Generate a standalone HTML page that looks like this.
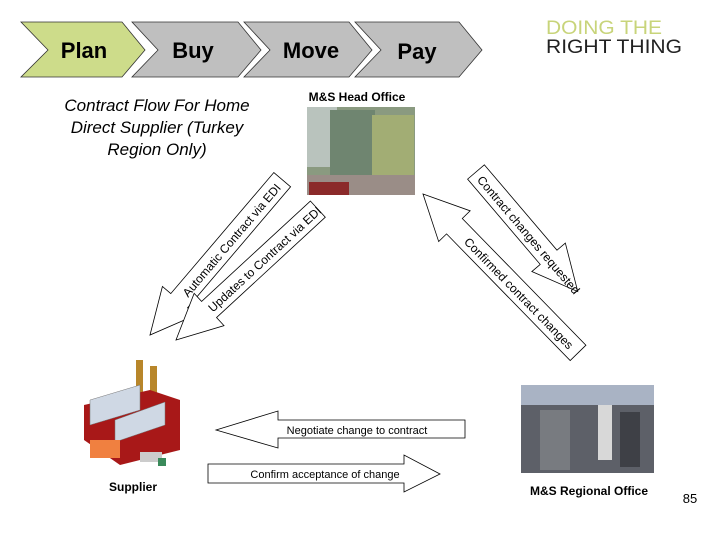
<!DOCTYPE html>
<html><head><meta charset="utf-8"><style>
html,body{margin:0;padding:0;background:#fff;}
svg{display:block;font-family:"Liberation Sans",Arial,sans-serif;}
</style></head><body>
<svg width="720" height="540" viewBox="0 0 720 540" xmlns="http://www.w3.org/2000/svg">
<rect width="720" height="540" fill="#fff"/>
<!-- chevrons -->
<g stroke="#333" stroke-width="0.8">
<polygon points="21,22 122,22 145,50 122,77 21,77 48,50" fill="#cddc8a"/>
<polygon points="132,22 238,22 261,50 238,77 132,77 158,50" fill="#bfbfbf"/>
<polygon points="244,22 349,22 372,50 349,77 244,77 270,50" fill="#bfbfbf"/>
<polygon points="355,22 459,22 482,50 459,77 355,77 381,50" fill="#bfbfbf"/>
</g>
<g font-weight="bold" font-size="22" fill="#000" text-anchor="middle">
<text x="84" y="58">Plan</text>
<text x="193" y="58">Buy</text>
<text x="311" y="58">Move</text>
<text x="417" y="59">Pay</text>
</g>
<text x="546" y="34" font-size="19" fill="#c8d47a" textLength="116" lengthAdjust="spacingAndGlyphs">DOING THE</text>
<text x="546" y="53" font-size="19" fill="#222" textLength="136" lengthAdjust="spacingAndGlyphs">RIGHT THING</text>
<g font-style="italic" font-size="17" text-anchor="middle" fill="#000">
<text x="157" y="111">Contract Flow  For Home</text>
<text x="157" y="133">Direct Supplier (Turkey</text>
<text x="157" y="155">Region Only)</text>
</g>
<text x="357" y="101" font-size="12" font-weight="bold" text-anchor="middle">M&amp;S Head Office</text>
<!-- head office photo -->
<rect x="307" y="107" width="108" height="88" fill="#8a9a80"/>
<rect x="307" y="107" width="30" height="60" fill="#b9c3bd"/>
<rect x="330" y="110" width="45" height="65" fill="#6f8570"/>
<rect x="372" y="115" width="42" height="60" fill="#a2ad74"/>
<rect x="307" y="175" width="108" height="20" fill="#9a8d87"/>
<rect x="309" y="182" width="40" height="13" fill="#8b2a2a"/>
<!-- diagonal arrows -->
<g fill="#fff" stroke="#000" stroke-width="0.8" font-size="12">
<g transform="translate(150,335) rotate(-49.6)">
<polygon points="0,0 45,-22 45,-11 204,-11 204,11 45,11 45,22"/>
<text x="125" y="5" text-anchor="middle" stroke="none" fill="#000">Automatic Contract via EDI</text>
</g>
<g transform="translate(176,340) rotate(-42.7)">
<polygon points="0,0 45,-22 45,-11 193,-11 193,11 45,11 45,22"/>
<text x="120" y="5" text-anchor="middle" stroke="none" fill="#000">Updates to Contract via EDI</text>
</g>
<g transform="translate(476,172) rotate(49.6)">
<polygon points="0,-11 112,-11 112,-22 157,0 112,22 112,11 0,11"/>
<text x="82" y="5" text-anchor="middle" stroke="none" fill="#000">Contract changes requested</text>
</g>
<g transform="translate(423,194) rotate(45.7)">
<polygon points="0,0 45,-22 45,-11 222,-11 222,11 45,11 45,22"/>
<text x="138" y="5" text-anchor="middle" stroke="none" fill="#000">Confirmed contract changes</text>
</g>
<!-- horizontal -->
<polygon points="216,430 278,411 278,420 465,420 465,438 278,438 278,448"/>
<text x="357" y="434" text-anchor="middle" font-size="11" stroke="none" fill="#000">Negotiate change to contract</text>
<polygon points="208,464 404,464 404,455 440,474 404,492 404,483 208,483"/>
<text x="325" y="478" text-anchor="middle" font-size="11" stroke="none" fill="#000">Confirm acceptance of change</text>
</g>
<!-- factory -->
<rect x="136" y="360" width="7" height="50" fill="#b8862a"/>
<rect x="150" y="366" width="7" height="45" fill="#b8862a"/>
<polygon points="84,405 150,390 180,400 180,450 120,465 84,440" fill="#a81818"/>
<polygon points="90,400 140,385 140,410 90,425" fill="#cfd8e4" stroke="#777" stroke-width="0.5"/>
<polygon points="115,420 165,402 165,425 115,442" fill="#cfd8e4" stroke="#777" stroke-width="0.5"/>
<rect x="90" y="440" width="30" height="18" fill="#f08040"/>
<rect x="140" y="452" width="22" height="10" fill="#ccc"/>
<rect x="158" y="458" width="8" height="8" fill="#3a8a5a"/>
<text x="133" y="491" font-size="12" font-weight="bold" text-anchor="middle">Supplier</text>
<!-- regional photo -->
<rect x="521" y="385" width="133" height="88" fill="#5d6068"/>
<rect x="521" y="385" width="133" height="20" fill="#a9b3c4"/>
<rect x="540" y="410" width="30" height="60" fill="#787b80"/>
<rect x="598" y="405" width="14" height="55" fill="#d8d8d8"/>
<rect x="620" y="412" width="20" height="55" fill="#3e4046"/>
<text x="589" y="495" font-size="12" font-weight="bold" text-anchor="middle">M&amp;S Regional Office</text>
<text x="690" y="503" font-size="13" text-anchor="middle">85</text>
</svg>
</body></html>
